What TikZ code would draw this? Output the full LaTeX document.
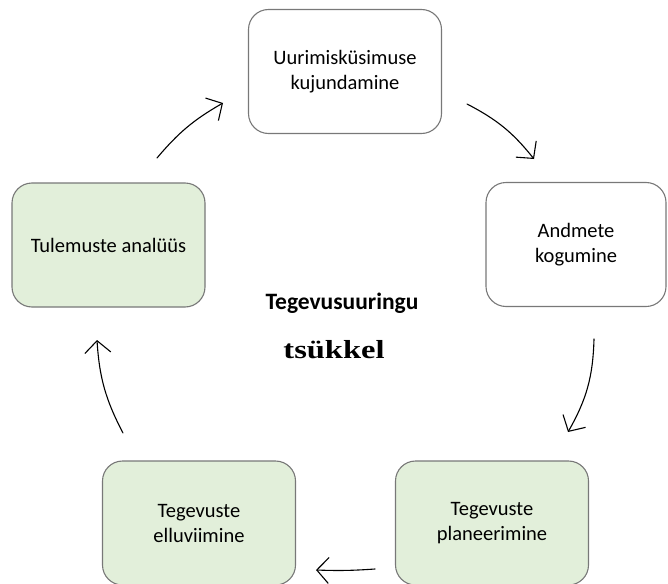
\documentclass[tikz,border=0pt]{standalone}
\usepackage{fontspec}
\setmainfont{Carlito}
\newfontfamily\serifstretch{Liberation Serif}[FakeStretch=1.25]
\usetikzlibrary{arrows.meta}

\definecolor{boxborder}{RGB}{120,120,120}
\definecolor{boxgreen}{RGB}{226,239,218}

\begin{document}
\begin{tikzpicture} [
    x=1pt, y=-1pt,
    block/.style={rectangle, draw=boxborder, line width=1.1pt, fill=white, rounded corners=20pt, align=center, minimum width=193pt, minimum height=124pt, font=\fontsize{20.5}{25}\selectfont},
    green_block/.style={block, fill=boxgreen},
    line/.style={draw, -{Straight Barb[length=12pt, width=26pt]}, line width=1.1pt, line cap=round},
    title/.style={anchor=base, font=\fontsize{23.5}{28}\selectfont\bfseries}
]
    \clip (0,0) rectangle (668,583);

    % Nodes
    \node[block] (question) at (345,71.5) {Uurimisküsimuse\\kujundamine};
    \node[block, minimum width=180pt] (data) at (576,244.5) {Andmete\\kogumine};
    \node[green_block] (planning) at (492,523) {Tegevuste\\planeerimine};
    \node[green_block] (doing) at (199,523) {Tegevuste\\elluviimine};
    \node[green_block] (analysis) at (108.5,245) {Tulemuste analüüs};

    \node[title] (title_top) at (342,309) {Tegevusuuringu};
    \node[title, font=\fontsize{26}{30}\selectfont\serifstretch\bfseries] (title_bottom) at (334,358) {tsükkel};

    % Arrow ends
    \coordinate (analysis_out) at (157,158);
    \coordinate (question_in) at (223,103);
    \coordinate (question_out) at (467,104);
    \coordinate (data_in) at (534,159);
    \coordinate (data_out) at (594,339);
    \coordinate (planning_in) at (568,432);
    \coordinate (planning_out) at (375,569);
    \coordinate (doing_in) at (316,570);
    \coordinate (doing_out) at (123,433);
    \coordinate (analysis_in) at (97,340);

    % Arrows
    \path [line] (analysis_out) to[bend left=10] (question_in);
    \path [line] (question_out) to[bend left=12] (data_in);
    \path [line] (data_out) to[bend left=14] (planning_in);
    \path [line] (planning_out) to[bend left=3] (doing_in);
    \path [line] (doing_out) to[bend left=12] (analysis_in);

\end{tikzpicture}
\end{document}
